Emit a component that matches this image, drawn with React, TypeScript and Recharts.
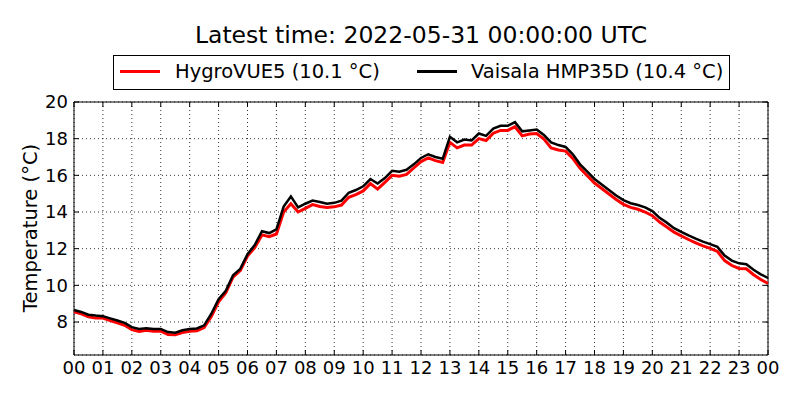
import React from "react";
import {
  CartesianGrid,
  Line,
  LineChart,
  ReferenceArea,
  XAxis,
  YAxis,
} from "recharts";

// hours since 00 UTC, 15 min steps
const hours = [
  0, 0.25, 0.5, 0.75, 1, 1.25, 1.5, 1.75, 2, 2.25, 2.5, 2.75, 3, 3.25, 3.5, 3.75,
  4, 4.25, 4.5, 4.75, 5, 5.25, 5.5, 5.75, 6, 6.25, 6.5, 6.75, 7, 7.25, 7.5, 7.75,
  8, 8.25, 8.5, 8.75, 9, 9.25, 9.5, 9.75, 10, 10.25, 10.5, 10.75, 11, 11.25, 11.5, 11.75,
  12, 12.25, 12.5, 12.75, 13, 13.25, 13.5, 13.75, 14, 14.25, 14.5, 14.75, 15, 15.25, 15.5, 15.75,
  16, 16.25, 16.5, 16.75, 17, 17.25, 17.5, 17.75, 18, 18.25, 18.5, 18.75, 19, 19.25, 19.5, 19.75,
  20, 20.25, 20.5, 20.75, 21, 21.25, 21.5, 21.75, 22, 22.25, 22.5, 22.75, 23, 23.25, 23.5, 23.75,
  24,
];

const hygroVue = [
  8.55, 8.45, 8.28, 8.22, 8.22, 8.08, 7.95, 7.82, 7.58, 7.48, 7.55, 7.5, 7.5, 7.32, 7.3, 7.42,
  7.5, 7.52, 7.7, 8.3, 9.1, 9.6, 10.45, 10.8, 11.6, 12.05, 12.75, 12.65, 12.8, 14.0, 14.45, 14.0,
  14.2, 14.4, 14.3, 14.25, 14.28, 14.38, 14.8, 14.95, 15.15, 15.55, 15.25, 15.62, 16.0, 15.95, 16.05, 16.4,
  16.75, 16.95, 16.8, 16.7, 17.8, 17.5, 17.65, 17.65, 18.0, 17.9, 18.3, 18.45, 18.45, 18.65, 18.15, 18.25,
  18.28, 17.98, 17.5, 17.38, 17.32, 16.92, 16.38, 15.98, 15.58, 15.28, 14.98, 14.68, 14.42, 14.25, 14.15, 14.0,
  13.8, 13.45, 13.18, 12.9, 12.7, 12.5, 12.32, 12.15, 12.02, 11.85, 11.35, 11.08, 10.92, 10.9, 10.58, 10.32,
  10.1,
];

const vaisala = [
  8.65, 8.55, 8.4, 8.35, 8.32, 8.2, 8.08, 7.95, 7.72, 7.62, 7.66, 7.62, 7.62, 7.45, 7.42, 7.55,
  7.62, 7.65, 7.82, 8.45, 9.25, 9.7, 10.55, 10.9, 11.7, 12.2, 12.95, 12.85, 13.05, 14.3, 14.85, 14.25,
  14.45, 14.62, 14.55, 14.45, 14.5, 14.62, 15.05, 15.2, 15.4, 15.8, 15.55, 15.85, 16.25, 16.2, 16.3, 16.6,
  16.95, 17.15, 17.0, 16.9, 18.1, 17.8, 17.95, 17.9, 18.28, 18.15, 18.55, 18.7, 18.7, 18.9, 18.4, 18.45,
  18.5, 18.2, 17.8, 17.65, 17.55, 17.15, 16.6, 16.2, 15.8, 15.5, 15.2, 14.9, 14.65, 14.48, 14.38, 14.25,
  14.05, 13.68, 13.42, 13.12, 12.92, 12.72, 12.55, 12.38, 12.25, 12.1, 11.62, 11.35, 11.2, 11.15, 10.85, 10.6,
  10.4,
];

const xTicks = [0, 1, 2, 3, 4, 5, 6, 7, 8, 9, 10, 11, 12, 13, 14, 15, 16, 17, 18, 19, 20, 21, 22, 23, 24];
const yTicks = [8, 10, 12, 14, 16, 18, 20];
const yDomain: [number, number] = [6.2, 20];

const RED = "#ff0000";
const BLACK = "#000000";
const FONT = "'DejaVu Sans', Verdana, sans-serif";

const W = 800;
const H = 400;
const MARGIN = { top: 102, right: 32, bottom: 15, left: 14 };
const PLOT_RIGHT = W - MARGIN.right;
const PLOT_TOP = MARGIN.top;

const data = hours.map((t, i) => ({ t, hygro: hygroVue[i], vaisala: vaisala[i] }));

const hourLabel = (h: number) => String(h % 24).padStart(2, "0");

// inward ticks on both sides, like the matplotlib classic style
function YTick(props: any) {
  const { x, y, payload } = props;
  return (
    <g>
      <line x1={x} x2={x + 5} y1={y} y2={y} stroke="#000" />
      <line x1={PLOT_RIGHT - 5} x2={PLOT_RIGHT} y1={y} y2={y} stroke="#000" />
      <text x={x - 6} y={y} dy="0.36em" textAnchor="end" fontSize={18} fontFamily={FONT} fill="#000">
        {payload.value}
      </text>
    </g>
  );
}

function XTick(props: any) {
  const { x, y, payload } = props;
  return (
    <g>
      <line x1={x} x2={x} y1={y} y2={y - 5} stroke="#000" />
      <line x1={x} x2={x} y1={PLOT_TOP} y2={PLOT_TOP + 5} stroke="#000" />
      <text x={x} y={y + 19} textAnchor="middle" fontSize={18} fontFamily={FONT} fill="#000">
        {hourLabel(payload.value)}
      </text>
    </g>
  );
}

const legendItems = [
  { label: "HygroVUE5 (10.1 °C)", color: RED, left: 6, textLeft: 61 },
  { label: "Vaisala HMP35D (10.4 °C)", color: BLACK, left: 303, textLeft: 357 },
];

export default function App() {
  return (
    <div style={{ position: "absolute", left: 0, top: 0, width: W, height: H, background: "#fff", fontFamily: FONT }}>
      <div
        style={{
          position: "absolute",
          left: 74,
          width: 694,
          top: 21,
          textAlign: "center",
          fontSize: 23.5,
          lineHeight: "28px",
          color: "#000",
        }}
      >
        Latest time: 2022-05-31 00:00:00 UTC
      </div>

      <div
        style={{
          position: "absolute",
          left: 113,
          top: 55,
          width: 615,
          height: 33,
          border: "1px solid #000",
          fontSize: 19.5,
        }}
      >
        {legendItems.map((it) => (
          <React.Fragment key={it.label}>
            <div
              style={{
                position: "absolute",
                left: it.left,
                top: 14,
                width: 40,
                height: 3,
                background: it.color,
              }}
            />
            <div style={{ position: "absolute", left: it.textLeft, top: 3, lineHeight: "26px", whiteSpace: "nowrap" }}>
              {it.label}
            </div>
          </React.Fragment>
        ))}
      </div>

      <div
        style={{
          position: "absolute",
          left: 30,
          top: 228,
          transform: "translate(-50%, -50%) rotate(-90deg)",
          fontSize: 19.5,
          whiteSpace: "nowrap",
        }}
      >
        Temperature (°C)
      </div>

      <div style={{ position: "absolute", left: 0, top: 0 }}>
        <LineChart width={W} height={H} data={data} margin={MARGIN}>
          <CartesianGrid stroke="#000" strokeWidth={1} strokeDasharray="1 3" strokeOpacity={0.8} />
          <XAxis
            dataKey="t"
            type="number"
            domain={[0, 24]}
            ticks={xTicks}
            interval={0}
            tickSize={0}
            tickMargin={0}
            tickLine={false}
            axisLine={false}
            height={30}
            tick={<XTick />}
          />
          <YAxis
            type="number"
            domain={yDomain}
            ticks={yTicks}
            interval={0}
            allowDataOverflow
            tickSize={0}
            tickMargin={0}
            tickLine={false}
            axisLine={false}
            width={60}
            tick={<YTick />}
          />
          <ReferenceArea x1={0} x2={24} y1={yDomain[0]} y2={yDomain[1]} fill="none" stroke="#000" strokeWidth={1} />
          <Line
            type="linear"
            dataKey="hygro"
            stroke={RED}
            strokeWidth={3}
            dot={false}
            isAnimationActive={false}
          />
          <Line
            type="linear"
            dataKey="vaisala"
            stroke={BLACK}
            strokeWidth={2.5}
            dot={false}
            isAnimationActive={false}
          />
        </LineChart>
      </div>
    </div>
  );
}
